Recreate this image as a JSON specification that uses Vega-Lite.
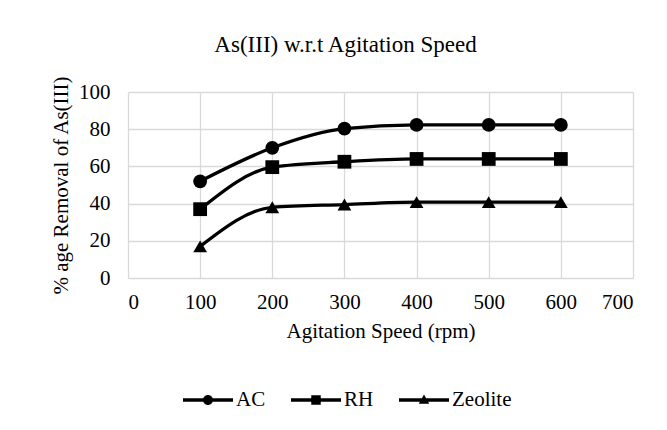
{
  "$schema": "https://vega.github.io/schema/vega-lite/v6.json",
  "width": 505,
  "height": 186,
  "autosize": {"type": "none"},
  "padding": {"left": 128, "top": 92, "right": 34, "bottom": 152},
  "background": "white",
  "title": {
    "text": "As(III) w.r.t Agitation Speed",
    "font": "Liberation Serif",
    "fontSize": 23,
    "fontWeight": "normal",
    "color": "#000000",
    "anchor": "middle",
    "offset": 18,
    "dx": -35
  },
  "data": {
    "values": [
      {"speed": 100, "removal": 52, "series": "AC"},
      {"speed": 200, "removal": 70, "series": "AC"},
      {"speed": 300, "removal": 80.3, "series": "AC"},
      {"speed": 400, "removal": 82.3, "series": "AC"},
      {"speed": 500, "removal": 82.3, "series": "AC"},
      {"speed": 600, "removal": 82.3, "series": "AC"},
      {"speed": 100, "removal": 37, "series": "RH"},
      {"speed": 200, "removal": 59.6, "series": "RH"},
      {"speed": 300, "removal": 62.5, "series": "RH"},
      {"speed": 400, "removal": 64, "series": "RH"},
      {"speed": 500, "removal": 64, "series": "RH"},
      {"speed": 600, "removal": 64, "series": "RH"},
      {"speed": 100, "removal": 17, "series": "Zeolite"},
      {"speed": 200, "removal": 38, "series": "Zeolite"},
      {"speed": 300, "removal": 39.5, "series": "Zeolite"},
      {"speed": 400, "removal": 40.8, "series": "Zeolite"},
      {"speed": 500, "removal": 40.8, "series": "Zeolite"},
      {"speed": 600, "removal": 40.8, "series": "Zeolite"}
    ]
  },
  "encoding": {
    "x": {
      "field": "speed",
      "type": "quantitative",
      "scale": {"domain": [0, 700], "nice": false},
      "axis": {
        "title": "Agitation Speed (rpm)",
        "values": [0, 100, 200, 300, 400, 500, 600, 700],
        "labelPadding": 13,
        "titlePadding": 8
      }
    },
    "y": {
      "field": "removal",
      "type": "quantitative",
      "scale": {"domain": [0, 100], "nice": false},
      "axis": {
        "title": "% age Removal of As(III)",
        "values": [0, 20, 40, 60, 80, 100],
        "labelPadding": 18,
        "titlePadding": 7
      }
    }
  },
  "layer": [
    {
      "mark": {"type": "line", "interpolate": "monotone", "color": "black", "strokeWidth": 3.3},
      "encoding": {"detail": {"field": "series"}}
    },
    {
      "mark": {"type": "point", "filled": true, "color": "black", "opacity": 1, "size": 190},
      "encoding": {
        "shape": {
          "field": "series",
          "type": "nominal",
          "scale": {"domain": ["AC", "RH", "Zeolite"], "range": ["circle", "square", "triangle-up"]},
          "legend": null
        }
      }
    },
    {
      "transform": [{"filter": "datum.speed < 0"}],
      "mark": {"type": "point", "filled": true, "color": "black", "opacity": 1},
      "encoding": {
        "shape": {
          "field": "series",
          "type": "nominal",
          "scale": {
            "domain": ["AC", "RH", "Zeolite"],
            "range": [
              "M-1,-0.066H1V0.066H-1ZM0.2,0A0.2,0.2,0,1,1,-0.2,0A0.2,0.2,0,1,1,0.2,0Z",
              "M-1,-0.066H1V0.066H-1ZM-0.19,-0.19H0.19V0.19H-0.19Z",
              "M-1,-0.066H1V0.066H-1ZM0,-0.22L0.21,0.15H-0.21Z"
            ]
          },
          "legend": {
            "orient": "none",
            "legendX": 55,
            "legendY": 283,
            "direction": "horizontal",
            "title": null,
            "padding": 0,
            "symbolSize": 2500,
            "symbolStrokeWidth": 0,
            "symbolFillColor": "black",
            "symbolOpacity": 1,
            "labelFont": "Liberation Serif",
            "labelFontSize": 21,
            "labelColor": "#000000",
            "labelOffset": 3,
            "columnPadding": 25
          }
        }
      }
    }
  ],
  "resolve": {"scale": {"shape": "independent"}},
  "config": {
    "font": "Liberation Serif",
    "view": {"stroke": null},
    "axis": {
      "domain": false,
      "ticks": false,
      "grid": true,
      "gridColor": "#d9d9d9",
      "gridWidth": 1.3,
      "labelFont": "Liberation Serif",
      "labelFontSize": 21,
      "labelColor": "#000000",
      "titleFont": "Liberation Serif",
      "titleFontSize": 21,
      "titleFontWeight": "normal",
      "titleColor": "#000000"
    }
  }
}
